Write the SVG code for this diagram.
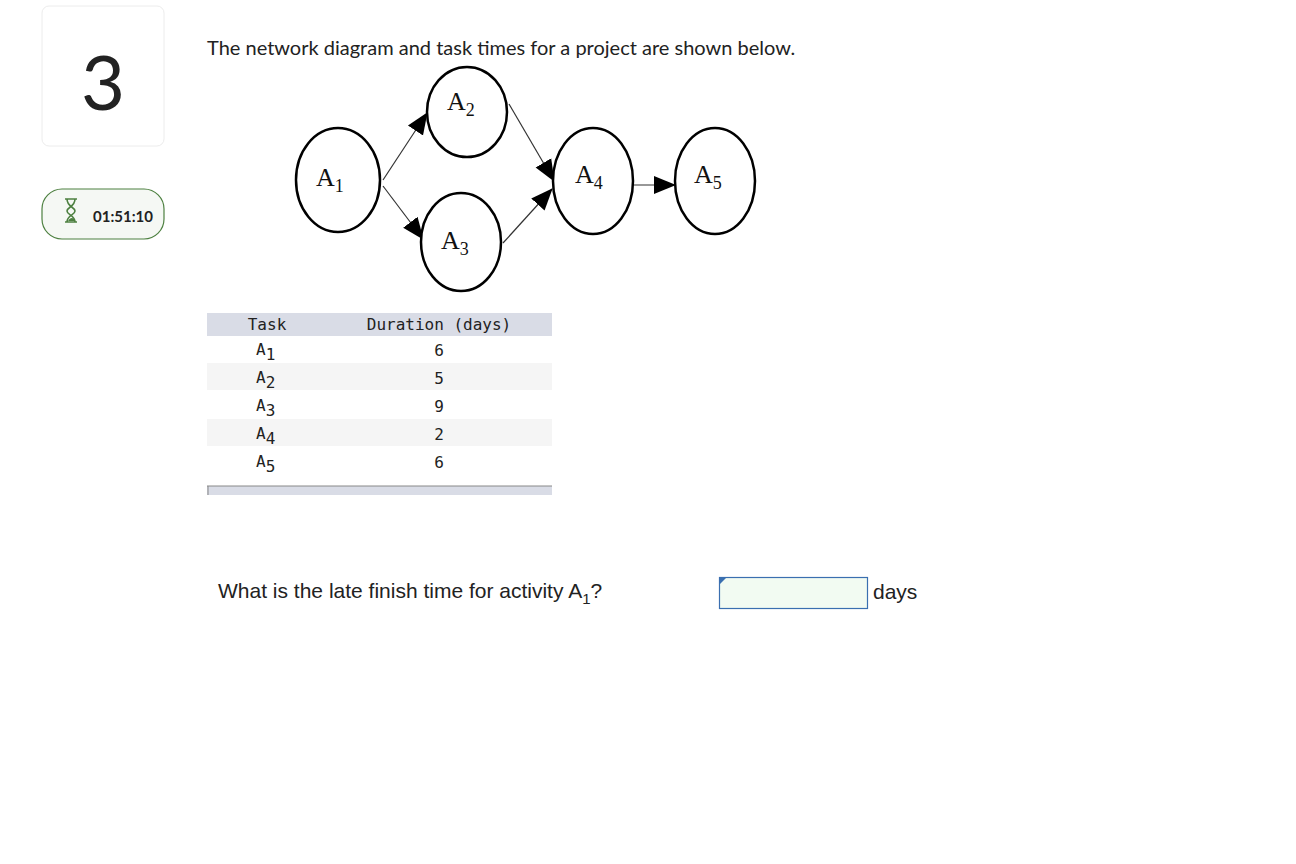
<svg xmlns="http://www.w3.org/2000/svg" width="1296" height="864" viewBox="0 0 1296 864">
<style>
.n{fill:#fff;stroke:#000;stroke-width:2.5}
.nt{font-family:"Liberation Serif",serif;font-size:26px;fill:#111}
.e{stroke:#333;stroke-width:1.2;fill:none}
.m{font-family:"DejaVu Sans Mono",monospace;font-size:16px;fill:#222}
.s{font-family:"Liberation Sans",sans-serif}
</style>
<defs><marker id="a" markerWidth="10" markerHeight="10" refX="9" refY="5" orient="auto" markerUnits="userSpaceOnUse" viewBox="0 0 10 10"><path d="M0,0L10,5L0,10z" fill="#000"/></marker>
<marker id="b" markerWidth="22" markerHeight="22" refX="21" refY="11" orient="auto" markerUnits="userSpaceOnUse" viewBox="0 0 22 22"><path d="M0,2L22,11L0,20z" fill="#000"/></marker></defs>
<rect width="1296" height="864" fill="#fff"/>
<rect x="42" y="6" width="122" height="140" rx="7" fill="#fff" stroke="#ececec"/>
<text x="103" y="110" text-anchor="middle" font-family="Lato,sans-serif" font-size="76" fill="#222">3</text>
<rect x="42" y="189" width="122" height="50" rx="20" fill="#f5f8f4" stroke="#4d8040" stroke-width="1.2"/>
<path d="M65,199h12M65,222h12M67,199c0,8 8,8 8,12c0,4 -8,4 -8,11M75,199c0,8 -8,8 -8,12c0,4 8,4 8,11" fill="none" stroke="#4d8040" stroke-width="1.6"/>
<path d="M68,221c2,-4 6,-4 7,0z" fill="#4d8040"/>
<text x="93" y="222" font-family="Lato,sans-serif" font-weight="bold" font-size="15" fill="#222">01:51:10</text>
<text x="207" y="55" font-family="Lato,sans-serif" font-size="20" fill="#222">The network diagram and task times for a project are shown below.</text>
<g id="edges">
<path class="e" d="M383,180L427,113" marker-end="url(#b)"/>
<path class="e" d="M383,186L423,239" marker-end="url(#b)"/>
<path class="e" d="M509,104L554,181" marker-end="url(#b)"/>
<path class="e" d="M503,243L552,189" marker-end="url(#b)"/>
<path class="e" d="M633,185L675,185" marker-end="url(#b)"/>
</g>
<g id="A1"><ellipse class="n" cx="338" cy="180" rx="42" ry="52"/><text class="nt" x="316" y="186">A<tspan font-size="18" dy="6">1</tspan></text></g>
<g id="A2"><ellipse class="n" cx="467" cy="112" rx="40" ry="45"/><text class="nt" x="447" y="110">A<tspan font-size="18" dy="6">2</tspan></text></g>
<g id="A3"><ellipse class="n" cx="461" cy="242" rx="40" ry="49"/><text class="nt" x="441" y="249">A<tspan font-size="18" dy="6">3</tspan></text></g>
<g id="A4"><ellipse class="n" cx="593" cy="181" rx="40" ry="53"/><text class="nt" x="575" y="183">A<tspan font-size="18" dy="6">4</tspan></text></g>
<g id="A5"><ellipse class="n" cx="715" cy="181" rx="40" ry="53"/><text class="nt" x="694" y="183">A<tspan font-size="18" dy="6">5</tspan></text></g>
<rect x="207" y="313" width="345" height="23" fill="#d9dce6"/>
<rect x="207" y="363" width="345" height="27" fill="#f5f5f5"/>
<rect x="207" y="419" width="345" height="27" fill="#f5f5f5"/>
<rect x="207" y="486" width="345" height="9" fill="#d9dce6"/>
<path d="M207,486H552M208,486V495" stroke="#888" stroke-width="1"/>
<g class="m" text-anchor="middle">
<text x="267" y="330">Task</text><text x="439" y="330">Duration (days)</text>
<text x="439" y="356">6</text><text x="439" y="384">5</text><text x="439" y="412">9</text><text x="439" y="440">2</text><text x="439" y="468">6</text>
</g>
<g class="m">
<text x="256" y="355">A<tspan dy="5">1</tspan></text>
<text x="256" y="383">A<tspan dy="5">2</tspan></text>
<text x="256" y="411">A<tspan dy="5">3</tspan></text>
<text x="256" y="439">A<tspan dy="5">4</tspan></text>
<text x="256" y="467">A<tspan dy="5">5</tspan></text>
</g>
<text class="s" x="218" y="598" font-size="21" fill="#222">What is the late finish time for activity A<tspan font-size="15" dy="6">1</tspan><tspan dy="-6">?</tspan></text>
<rect x="719.5" y="577.5" width="148" height="31" fill="#f2fbf2" stroke="#3a6fb0" stroke-width="1.2"/>
<path d="M720,578h6l-6,6z" fill="#3a6fb0"/>
<text class="s" x="873" y="599" font-size="21" fill="#222">days</text>
</svg>
